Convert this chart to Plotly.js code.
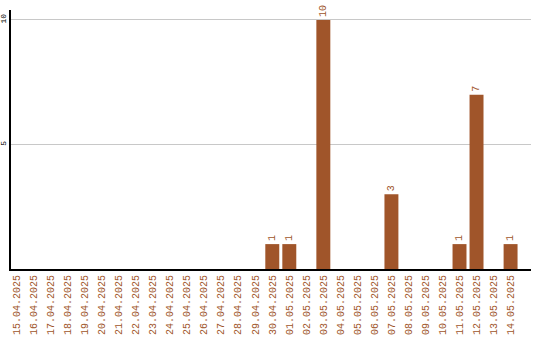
<!DOCTYPE html>
<html>
<head>
<meta charset="utf-8">
<script src="https://cdn.plot.ly/plotly-3.0.1.min.js"></script>
<style>
  html, body { margin: 0; padding: 0; background: #fff; }
  #chart { width: 540px; height: 340px; }
</style>
</head>
<body>
<div id="chart"></div>
<script>
// Daily counts, 15.04.2025 – 14.05.2025
const dates = [
  "15.04.2025", "16.04.2025", "17.04.2025", "18.04.2025", "19.04.2025",
  "20.04.2025", "21.04.2025", "22.04.2025", "23.04.2025", "24.04.2025",
  "25.04.2025", "26.04.2025", "27.04.2025", "28.04.2025", "29.04.2025",
  "30.04.2025", "01.05.2025", "02.05.2025", "03.05.2025", "04.05.2025",
  "05.05.2025", "06.05.2025", "07.05.2025", "08.05.2025", "09.05.2025",
  "10.05.2025", "11.05.2025", "12.05.2025", "13.05.2025", "14.05.2025"
];
const counts = [
  0, 0, 0, 0, 0,
  0, 0, 0, 0, 0,
  0, 0, 0, 0, 0,
  1, 1, 0, 10, 0,
  0, 0, 3, 0, 0,
  0, 1, 7, 0, 1
];
const yTicks = [5, 10];

const barColor = "#a0552a";
const mono = "Liberation Mono, DejaVu Sans Mono, monospace";

const trace = {
  type: "bar",
  x: dates,
  y: counts,
  width: 0.82,
  marker: { color: barColor, line: { width: 0 } },
  text: counts.map(v => v > 0 ? String(v) : ""),
  textposition: "outside",
  textangle: -90,
  textfont: { family: mono, size: 10, color: barColor },
  cliponaxis: false,
  hoverinfo: "none"
};

const layout = {
  width: 540,
  height: 340,
  margin: { l: 11, r: 9, t: 10, b: 71, pad: 0 },
  paper_bgcolor: "#ffffff",
  plot_bgcolor: "#ffffff",
  showlegend: false,
  xaxis: {
    type: "category",
    range: [-0.35, 30.2],
    tickangle: -90,
    tickfont: { family: mono, size: 10, color: barColor },
    showgrid: false,
    showline: true,
    linecolor: "#000000",
    linewidth: 2,
    ticks: "",
    zeroline: false,
    fixedrange: true
  },
  yaxis: {
    range: [0, 10.4],
    tickvals: yTicks,
    ticktext: yTicks.map(String),
    tickangle: -90,
    tickfont: { family: mono, size: 8, color: "#000000" },
    showgrid: true,
    gridcolor: "#c8c8c8",
    gridwidth: 1,
    showline: true,
    linecolor: "#000000",
    linewidth: 2,
    ticks: "",
    zeroline: false,
    fixedrange: true
  }
};

Plotly.newPlot("chart", [trace], layout, { displayModeBar: false, staticPlot: true });
</script>
</body>
</html>
